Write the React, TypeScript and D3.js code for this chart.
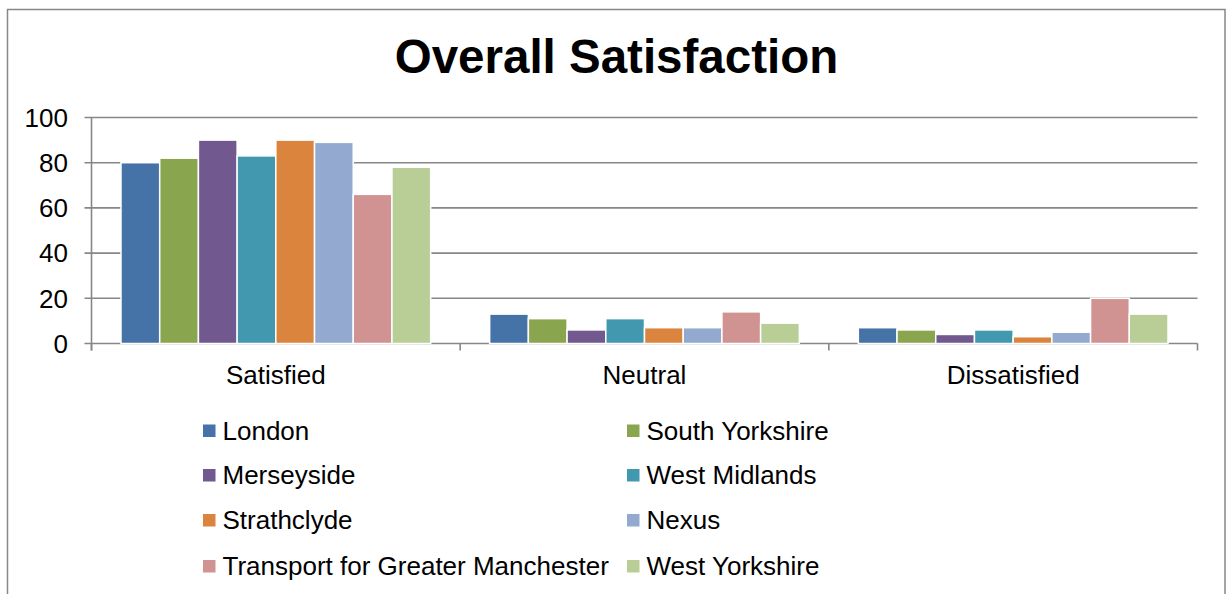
import React from "react";
import * as d3 from "d3";

const categories = ["Satisfied", "Neutral", "Dissatisfied"];
const seriesNames = [
  "London",
  "South Yorkshire",
  "Merseyside",
  "West Midlands",
  "Strathclyde",
  "Nexus",
  "Transport for Greater Manchester",
  "West Yorkshire",
];
const seriesColors = ["#4572A7", "#89A54E", "#71588F", "#4198AF", "#DB843D", "#93A9CF", "#D19392", "#B9CD96"];
// values per series: [Satisfied, Neutral, Dissatisfied]
const london = [80, 13, 7];
const southYorkshire = [82, 11, 6];
const merseyside = [90, 6, 4];
const westMidlands = [83, 11, 6];
const strathclyde = [90, 7, 3];
const nexus = [89, 7, 5];
const tfgm = [66, 14, 20];
const westYorkshire = [78, 9, 13];
const seriesValues = [london, southYorkshire, merseyside, westMidlands, strathclyde, nexus, tfgm, westYorkshire];
const yTicks = [0, 20, 40, 60, 80, 100];
const title = "Overall Satisfaction";

const W = 1228;
const H = 594;
const plotLeft = 91.5;
const plotRight = 1197.5;
const plotTop = 117.5;
const plotBottom = 343.5;
const font = "'Liberation Sans', Arial, sans-serif";
const gridColor = "#878787";
const labelSize = 26;

export default function App() {
  const y = d3.scaleLinear().domain([0, 100]).range([plotBottom, plotTop]);
  const x0 = d3.scaleBand<string>().domain(categories).range([plotLeft, plotRight]);
  const bw = x0.bandwidth();
  const gap = bw * 0.08;
  const x1 = d3.scaleBand<string>().domain(seriesNames).range([gap, bw - gap]);

  const legendRows = [430.5, 475, 520, 566];
  const legendCols = [203, 627];

  return (
    <div style={{ position: "absolute", left: 0, top: 0 }}>
      <svg width={W} height={H} style={{ display: "block", background: "#fff" }}>
        <rect x={7.5} y={9.5} width={1217.5} height={H + 20} fill="#fff" stroke={gridColor} strokeWidth={1.5} />
        <text x={616.5} y={73} textAnchor="middle" fontFamily={font} fontWeight="bold" fontSize={47.5} fill="#000">
          {title}
        </text>
        {yTicks.map((t) => (
          <g key={t}>
            <line x1={plotLeft - 7} x2={plotRight} y1={y(t)} y2={y(t)} stroke={gridColor} strokeWidth={1.6} />
            <text x={68} y={y(t)} dy="0.36em" textAnchor="end" fontFamily={font} fontSize={labelSize} fill="#000">
              {t}
            </text>
          </g>
        ))}
        <line x1={plotLeft} x2={plotLeft} y1={plotTop} y2={plotBottom + 7} stroke={gridColor} strokeWidth={1.6} />
        {[...categories.map((c) => x0(c) as number), plotRight].map((xv, i) => (
          <line key={i} x1={xv} x2={xv} y1={plotBottom} y2={plotBottom + 7} stroke={gridColor} strokeWidth={1.6} />
        ))}
        {categories.map((c, ci) => (
          <g key={c} transform={`translate(${x0(c)},0)`}>
            {seriesNames.map((s, si) => {
              const v = seriesValues[si][ci];
              return (
                <rect
                  key={s}
                  x={x1(s)}
                  y={y(v)}
                  width={x1.bandwidth()}
                  height={plotBottom - y(v)}
                  fill={seriesColors[si]}
                  stroke="#fff"
                  strokeWidth={1.5}
                />
              );
            })}
            <text x={bw / 2} y={383.5} textAnchor="middle" fontFamily={font} fontSize={labelSize} fill="#000">
              {c}
            </text>
          </g>
        ))}
        {seriesNames.map((s, i) => {
          const col = i % 2;
          const row = Math.floor(i / 2);
          const lx = legendCols[col];
          const ly = legendRows[row];
          return (
            <g key={s}>
              <rect x={lx} y={ly - 6} width={12.5} height={12.5} fill={seriesColors[i]} />
              <text x={lx + 19.5} y={ly} dy="0.36em" fontFamily={font} fontSize={labelSize} fill="#000">
                {s}
              </text>
            </g>
          );
        })}
      </svg>
    </div>
  );
}
